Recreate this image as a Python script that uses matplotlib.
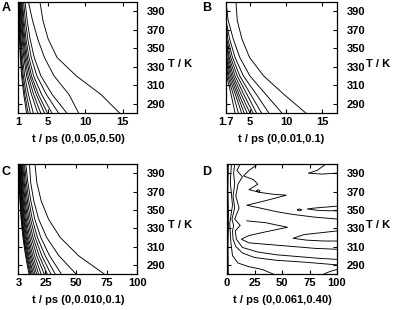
import numpy as np
import matplotlib.pyplot as plt

plt.rcParams['font.family'] = ['Liberation Sans', 'DejaVu Sans']
plt.rcParams['font.weight'] = 'bold'

# temperature levels at which contour positions were read (K)
T_levels = [400, 380, 360, 340, 320, 300, 280]

# panel A: t (ps) of each contour line at T_levels
a_lines = [
    [3.9, 4.3, 5.0, 6.2, 8.8, 12.1, 14.6],
    [2.35, 2.9, 3.6, 4.5, 5.8, 7.8, 9.1],
    [1.9, 2.18, 2.57, 3.13, 4.03, 5.54, 7.5],
    [1.7, 1.94, 2.26, 2.73, 3.49, 4.76, 6.4],
    [1.55, 1.75, 2.02, 2.42, 3.05, 4.12, 5.5],
    [1.45, 1.62, 1.86, 2.21, 2.76, 3.69, 4.9],
    [1.35, 1.51, 1.73, 2.04, 2.55, 3.4, 4.5],
    [1.28, 1.42, 1.61, 1.88, 2.31, 3.05, 4.0],
    [1.2, 1.32, 1.49, 1.73, 2.11, 2.76, 3.6],
    [1.14, 1.23, 1.36, 1.55, 1.85, 2.35, 3.0],
    [1.09, 1.17, 1.27, 1.42, 1.66, 2.07, 2.6],
    [1.05, 1.11, 1.2, 1.33, 1.53, 1.86, 2.3],
    [1.02, 1.07, 1.15, 1.26, 1.43, 1.72, 2.1],
]

# panel B
b_lines = [
    [3.07, 3.25, 3.9, 4.95, 6.9, 9.7, 12.7],
    [1.7, 2.0, 2.7, 3.6, 5.0, 7.2, 9.4],
    [1.7, 1.7, 2.2, 2.95, 4.1, 5.9, 7.6],
    [1.7, 1.7, 1.95, 2.6, 3.6, 5.1, 6.6],
    [1.7, 1.7, 1.8, 2.35, 3.25, 4.6, 5.9],
    [1.7, 1.7, 1.7, 2.15, 2.95, 4.15, 5.44],
    [1.7, 1.7, 1.7, 2.0, 2.7, 3.8, 5.0],
    [1.7, 1.7, 1.7, 1.85, 2.5, 3.5, 4.6],
    [1.7, 1.7, 1.7, 1.75, 2.3, 3.25, 4.2],
    [1.7, 1.7, 1.7, 1.7, 2.1, 3.0, 3.85],
    [1.7, 1.7, 1.7, 1.7, 1.95, 2.7, 3.4],
    [1.7, 1.7, 1.7, 1.7, 1.8, 2.4, 2.95],
]

# panel C
c_lines = [
    [16.5, 18, 21.5, 27.5, 37, 52, 73],
    [12, 13, 15.5, 19.5, 26, 36, 50],
    [9, 10.7, 13.1, 16.3, 21.2, 28.4, 38],
    [8, 9.5, 11.5, 14.3, 18.5, 24.8, 33],
    [7.2, 8.5, 10.3, 12.8, 16.6, 22.1, 29.5],
    [6.5, 7.7, 9.3, 11.5, 14.9, 19.9, 26.5],
    [5.9, 7.0, 8.4, 10.4, 13.5, 18.0, 24],
    [5.4, 6.4, 7.7, 9.4, 12.2, 16.2, 21.5],
    [5.0, 5.9, 7.0, 8.6, 11.1, 14.7, 19.5],
    [4.6, 5.4, 6.5, 7.9, 10.2, 13.5, 17.9],
    [4.3, 5.0, 6.0, 7.4, 9.4, 12.5, 16.5],
    [4.0, 4.7, 5.6, 6.8, 8.7, 11.5, 15.2],
    [3.7, 4.3, 5.2, 6.3, 8.1, 10.7, 14.2],
    [3.45, 4.0, 4.8, 5.9, 7.5, 10.0, 13.2],
    [3.25, 3.8, 4.5, 5.5, 7.1, 9.4, 12.4],
    [3.1, 3.6, 4.3, 5.2, 6.7, 8.8, 11.6],
]

# panel D: contour paths as (t, T) pairs
d_paths = [
    [(1.2, 400), (0.8, 370), (1.5, 340), (0.9, 310), (1.2, 280)],
    [(4, 400), (3, 380), (5, 355), (2.5, 335), (3.5, 315), (5, 300), (10, 292),
     (20, 288), (32, 285), (42, 280)],
    [(7, 400), (6, 390), (7, 378), (5.5, 365), (7, 352), (4.5, 340), (6, 333),
     (5, 327), (5.5, 318), (8, 310), (14, 303), (25, 298), (45, 295), (70, 293),
     (100, 290)],
    [(12, 400), (9, 393), (14, 386), (10, 378), (8, 365), (11, 352), (7, 340),
     (12, 333), (7.5, 327), (8.5, 318), (14, 309), (28, 304), (45, 301), (65, 299),
     (85, 297), (100, 296)],
    [(28, 400), (20, 393), (15, 387), (24, 383), (28, 378), (20, 372), (30, 369),
     (42, 367), (54, 366), (35, 360), (18, 355), (30, 352), (45, 348), (60, 345),
     (80, 342), (100, 340)],
    [(18, 338), (35, 336), (55, 331), (35, 326), (20, 322), (13, 318), (20, 314),
     (40, 312), (60, 310), (80, 308), (100, 307)],
    [(100, 327), (85, 325), (70, 323), (60, 319), (72, 317), (88, 316), (100, 316)],
    [(90, 400), (82, 393), (74, 390), (86, 389), (100, 390)],
    [(100, 354), (90, 353), (80, 352), (73, 351), (82, 349.5), (92, 349), (100, 349)],
    [(64, 350), (66, 351), (68, 350), (66, 349), (64, 350)],
    [(27, 370.6), (28.5, 372), (30, 370.6), (28.5, 369.2), (27, 370.6)],
    [(88, 280), (94, 283), (100, 285)],
]

a_ticks = [1, 5, 10, 15]
b_ticks = [1.7, 5, 10, 15]
c_ticks = [3, 25, 50, 75, 100]
d_ticks = [0, 25, 50, 75, 100]
T_ticks = [290, 310, 330, 350, 370, 390]


def setup(ax, xlim, xticks, xlabel):
    ax.set_xlim(xlim)
    ax.set_ylim(280, 400)
    ax.set_xticks(xticks)
    ax.set_xticklabels([str(v) for v in xticks])
    ax.set_yticks(T_ticks)
    ax.tick_params(direction='in', top=True, right=True, labelleft=False,
                   labelright=True, length=3, width=0.8, labelsize=8)
    ax.tick_params(axis='x', pad=3)
    ax.tick_params(axis='y', pad=7)
    for s in ax.spines.values():
        s.set_linewidth(0.9)
    ax.set_xlabel(xlabel, fontsize=8, fontweight='bold', labelpad=5)
    ax.text(1.26, 333, 'T / K', transform=ax.get_yaxis_transform(),
            fontsize=8, fontweight='bold', ha='left', va='center')


fig = plt.figure(figsize=(4, 3.1), dpi=100)
axA = fig.add_axes([0.046, 0.6355, 0.2975, 0.358])
axB = fig.add_axes([0.565, 0.6355, 0.2775, 0.358])
axC = fig.add_axes([0.046, 0.116, 0.2975, 0.355])
axD = fig.add_axes([0.5675, 0.116, 0.275, 0.355])

lw = 0.65
for line in a_lines:
    axA.plot(line, T_levels, color='black', lw=lw)
for line in b_lines:
    axB.plot(line, T_levels, color='black', lw=lw)
for line in c_lines:
    axC.plot(line, T_levels, color='black', lw=lw)
for path in d_paths:
    p = np.array(path)
    axD.plot(p[:, 0], p[:, 1], color='black', lw=lw)

setup(axA, (1, 17), a_ticks, 't / ps (0,0.05,0.50)')
setup(axB, (1.7, 17), b_ticks, 't / ps (0,0.01,0.1)')
setup(axC, (3, 100), c_ticks, 't / ps (0,0.010,0.1)')
setup(axD, (0, 100), d_ticks, 't / ps (0,0.061,0.40)')

fig.text(0.005, 0.995, 'A', fontsize=9, fontweight='bold', va='top')
fig.text(0.505, 0.995, 'B', fontsize=9, fontweight='bold', va='top')
fig.text(0.005, 0.465, 'C', fontsize=9, fontweight='bold', va='top')
fig.text(0.505, 0.465, 'D', fontsize=9, fontweight='bold', va='top')

fig.savefig('out.png', dpi=100)
